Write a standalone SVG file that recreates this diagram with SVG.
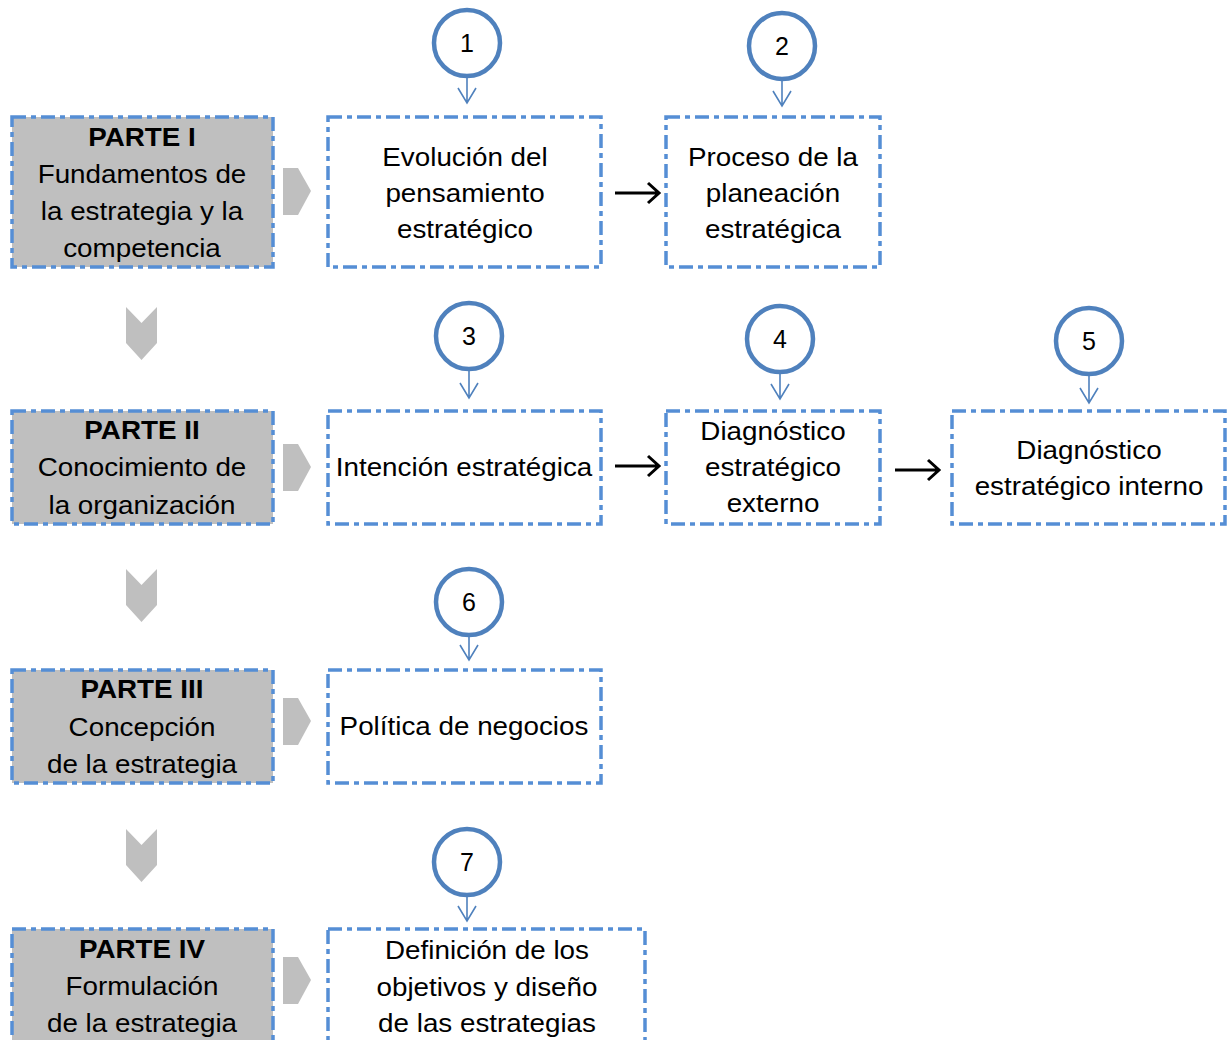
<svg xmlns="http://www.w3.org/2000/svg" width="1227" height="1040" viewBox="0 0 1227 1040">
<defs>
<style>
.box{fill:#fff;stroke:#558ED5;stroke-width:3.5;stroke-dasharray:14 5 5 5;}
.part{fill:#BFBFBF;stroke:#558ED5;stroke-width:3.5;stroke-dasharray:14 5 5 5;}
.circ{fill:#fff;stroke:#4F81BD;stroke-width:4.5;}
.t{font-family:"Liberation Sans",Arial,sans-serif;font-size:26px;fill:#000;text-anchor:middle;}
.b{font-weight:bold;}
.num{font-family:"Liberation Sans",Arial,sans-serif;font-size:25px;fill:#000;text-anchor:middle;}
.chev{fill:#BFBFBF;}
.blue{stroke:#4F81BD;stroke-width:1.6;fill:none;}
.blk{stroke:#000;stroke-width:3;fill:none;}
</style>
</defs>
<rect width="1227" height="1040" fill="#fff"/>

<g id="parte1">
<rect class="part" x="12" y="117" width="261" height="150"/>
<g transform="translate(142,0) scale(1.07,1)">
<text class="t b" x="0" y="146">PARTE I</text>
<text class="t" x="0" y="183">Fundamentos de</text>
<text class="t" x="0" y="220">la estrategia y la</text>
<text class="t" x="0" y="257">competencia</text>
</g>
</g>
<g id="parte2">
<rect class="part" x="12" y="411" width="261" height="113"/>
<g transform="translate(142,0) scale(1.07,1)">
<text class="t b" x="0" y="439">PARTE II</text>
<text class="t" x="0" y="476">Conocimiento de</text>
<text class="t" x="0" y="514">la organización</text>
</g>
</g>
<g id="parte3">
<rect class="part" x="12" y="670" width="261" height="113"/>
<g transform="translate(142,0) scale(1.07,1)">
<text class="t b" x="0" y="698">PARTE III</text>
<text class="t" x="0" y="736">Concepción</text>
<text class="t" x="0" y="773">de la estrategia</text>
</g>
</g>
<g id="parte4">
<rect class="part" x="12" y="929" width="261" height="140"/>
<g transform="translate(142,0) scale(1.07,1)">
<text class="t b" x="0" y="958">PARTE IV</text>
<text class="t" x="0" y="995">Formulación</text>
<text class="t" x="0" y="1032">de la estrategia</text>
</g>
</g>

<g id="box1">
<rect class="box" x="328" y="117" width="273" height="150"/>
<g transform="translate(465,0) scale(1.07,1)">
<text class="t" x="0" y="166">Evolución del</text>
<text class="t" x="0" y="202">pensamiento</text>
<text class="t" x="0" y="238">estratégico</text>
</g>
</g>
<g id="box2">
<rect class="box" x="666" y="117" width="214" height="150"/>
<g transform="translate(773,0) scale(1.07,1)">
<text class="t" x="0" y="166">Proceso de la</text>
<text class="t" x="0" y="202">planeación</text>
<text class="t" x="0" y="238">estratégica</text>
</g>
</g>
<g id="box3">
<rect class="box" x="328" y="411" width="273" height="113"/>
<g transform="translate(464,0) scale(1.07,1)">
<text class="t" x="0" y="476">Intención estratégica</text>
</g>
</g>
<g id="box4">
<rect class="box" x="666" y="411" width="214" height="113"/>
<g transform="translate(773,0) scale(1.07,1)">
<text class="t" x="0" y="440">Diagnóstico</text>
<text class="t" x="0" y="476">estratégico</text>
<text class="t" x="0" y="512">externo</text>
</g>
</g>
<g id="box5">
<rect class="box" x="952" y="411" width="273" height="113"/>
<g transform="translate(1089,0) scale(1.07,1)">
<text class="t" x="0" y="459">Diagnóstico</text>
<text class="t" x="0" y="495">estratégico interno</text>
</g>
</g>
<g id="box6">
<rect class="box" x="328" y="670" width="273" height="113"/>
<g transform="translate(464,0) scale(1.07,1)">
<text class="t" x="0" y="735">Política de negocios</text>
</g>
</g>
<g id="box7">
<rect class="box" x="328" y="929" width="317" height="140"/>
<g transform="translate(487,0) scale(1.07,1)">
<text class="t" x="0" y="959">Definición de los</text>
<text class="t" x="0" y="996">objetivos y diseño</text>
<text class="t" x="0" y="1032">de las estrategias</text>
</g>
</g>

<g id="c1"><circle class="circ" cx="467" cy="43" r="33"/><text class="num" x="467" y="52">1</text></g>
<g id="c2"><circle class="circ" cx="782" cy="46" r="33"/><text class="num" x="782" y="55">2</text></g>
<g id="c3"><circle class="circ" cx="469" cy="336" r="33"/><text class="num" x="469" y="345">3</text></g>
<g id="c4"><circle class="circ" cx="780" cy="339" r="33"/><text class="num" x="780" y="348">4</text></g>
<g id="c5"><circle class="circ" cx="1089" cy="341" r="33"/><text class="num" x="1089" y="350">5</text></g>
<g id="c6"><circle class="circ" cx="469" cy="602" r="33"/><text class="num" x="469" y="611">6</text></g>
<g id="c7"><circle class="circ" cx="467" cy="862" r="33"/><text class="num" x="467" y="871">7</text></g>

<g id="connectors">
<g class="chev">
<polygon points="283,168 298,168 311,191 298,215 283,215"/>
<polygon points="283,444 298,444 311,467 298,491 283,491"/>
<polygon points="283,698 298,698 311,721 298,745 283,745"/>
<polygon points="283,957 298,957 311,980 298,1004 283,1004"/>
<polygon points="126,307 141.5,323 157,307 157,343 141.5,360 126,343"/>
<polygon points="126,569 141.5,585 157,569 157,605 141.5,622 126,605"/>
<polygon points="126,829 141.5,845 157,829 157,865 141.5,882 126,865"/>
</g>
<g class="blue">
<path d="M467,78 V103 M458,88 L467,103 L476,88"/>
<path d="M782,81 V106 M773,91 L782,106 L791,91"/>
<path d="M469,371 V398 M460,383 L469,398 L478,383"/>
<path d="M780,374 V399 M771,384 L780,399 L789,384"/>
<path d="M1089,376 V403 M1080,388 L1089,403 L1098,388"/>
<path d="M469,637 V660 M460,645 L469,660 L478,645"/>
<path d="M467,897 V921 M458,906 L467,921 L476,906"/>
</g>
<g class="blk">
<path d="M615,193 H658 M648,183 L659,193 L648,203"/>
<path d="M615,466 H658 M648,456 L659,466 L648,476"/>
<path d="M895,470 H938 M928,460 L939,470 L928,480"/>
</g>
</g>
</svg>
